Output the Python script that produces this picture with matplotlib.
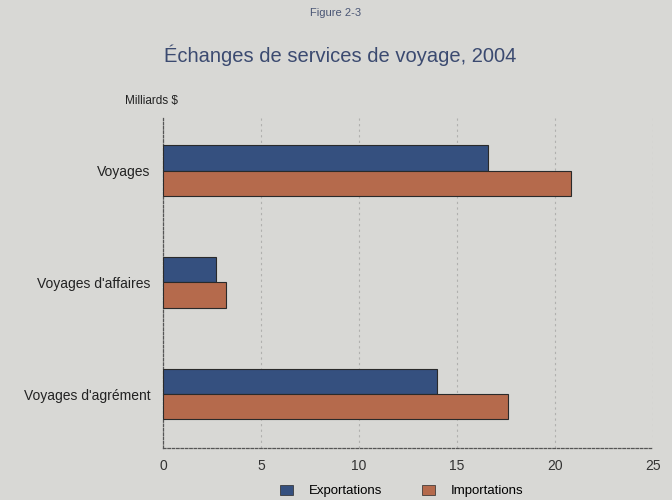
import matplotlib

matplotlib.use("Agg")
import matplotlib.pyplot as plt
import numpy as np
from matplotlib.patches import Patch

plt.rcParams["font.family"] = ["Liberation Sans", "DejaVu Sans"]

categories = ["Voyages", "Voyages d'affaires", "Voyages d'agrément"]
exportations = [16.6, 2.7, 14.0]
importations = [20.8, 3.2, 17.6]
x_ticks = [0, 5, 10, 15, 20, 25]

BG = "#d8d8d5"
EXP_COLOR = "#35507f"
IMP_COLOR = "#b56a4c"

fig = plt.figure(figsize=(6.72, 5.0), dpi=100, facecolor=BG)
ax = fig.add_axes([163 / 672, 1 - 448 / 500, 490 / 672, 330 / 500])
ax.set_facecolor(BG)

y = np.arange(len(categories))
h = 0.225
ax.barh(y - h / 2, exportations, height=h, color=EXP_COLOR,
        edgecolor="#2a2a2a", linewidth=0.8, zorder=3)
ax.barh(y + h / 2, importations, height=h, color=IMP_COLOR,
        edgecolor="#2a2a2a", linewidth=0.8, zorder=3)

ax.set_xlim(0, 25)
ax.set_ylim(2.48, -0.47)
ax.set_xticks(x_ticks)
ax.set_xticklabels([str(t) for t in x_ticks], fontsize=10, color="#333333")
ax.set_yticks(y)
ax.set_yticklabels(categories, fontsize=10, color="#222222")
ax.tick_params(axis="x", length=0, pad=8)
ax.tick_params(axis="y", length=0, pad=9)

ax.grid(axis="x", linestyle=(0, (2, 3)), color="#b0b0ae", linewidth=0.8, zorder=0)
for side in ["top", "right"]:
    ax.spines[side].set_visible(False)
for side in ["left", "bottom"]:
    ax.spines[side].set_linestyle((0, (2, 1.5)))
    ax.spines[side].set_color("#555555")
    ax.spines[side].set_linewidth(0.9)

fig.text(336 / 672, 1 - 13 / 500, "Figure 2-3", ha="center", va="center",
         fontsize=8, color="#4a5675")
fig.text(340 / 672, 1 - 55 / 500, "Échanges de services de voyage, 2004",
         ha="center", va="center", fontsize=14.5, color="#3b4a70")
fig.text(125 / 672, 1 - 101 / 500, "Milliards $", ha="left", va="center",
         fontsize=8.5, color="#222222")

handles = [Patch(facecolor=EXP_COLOR, edgecolor="#2a2a2a", linewidth=0.5),
           Patch(facecolor=IMP_COLOR, edgecolor="#2a2a2a", linewidth=0.5)]
fig.legend(handles, ["Exportations", "Importations"], loc="center",
           bbox_to_anchor=(402 / 672, 1 - 491 / 500), ncol=2, frameon=False,
           fontsize=9.5, handlelength=1.0, handleheight=0.8, columnspacing=3.0,
           handletextpad=1.2)

fig.savefig("out.png", dpi=100, facecolor=BG)
